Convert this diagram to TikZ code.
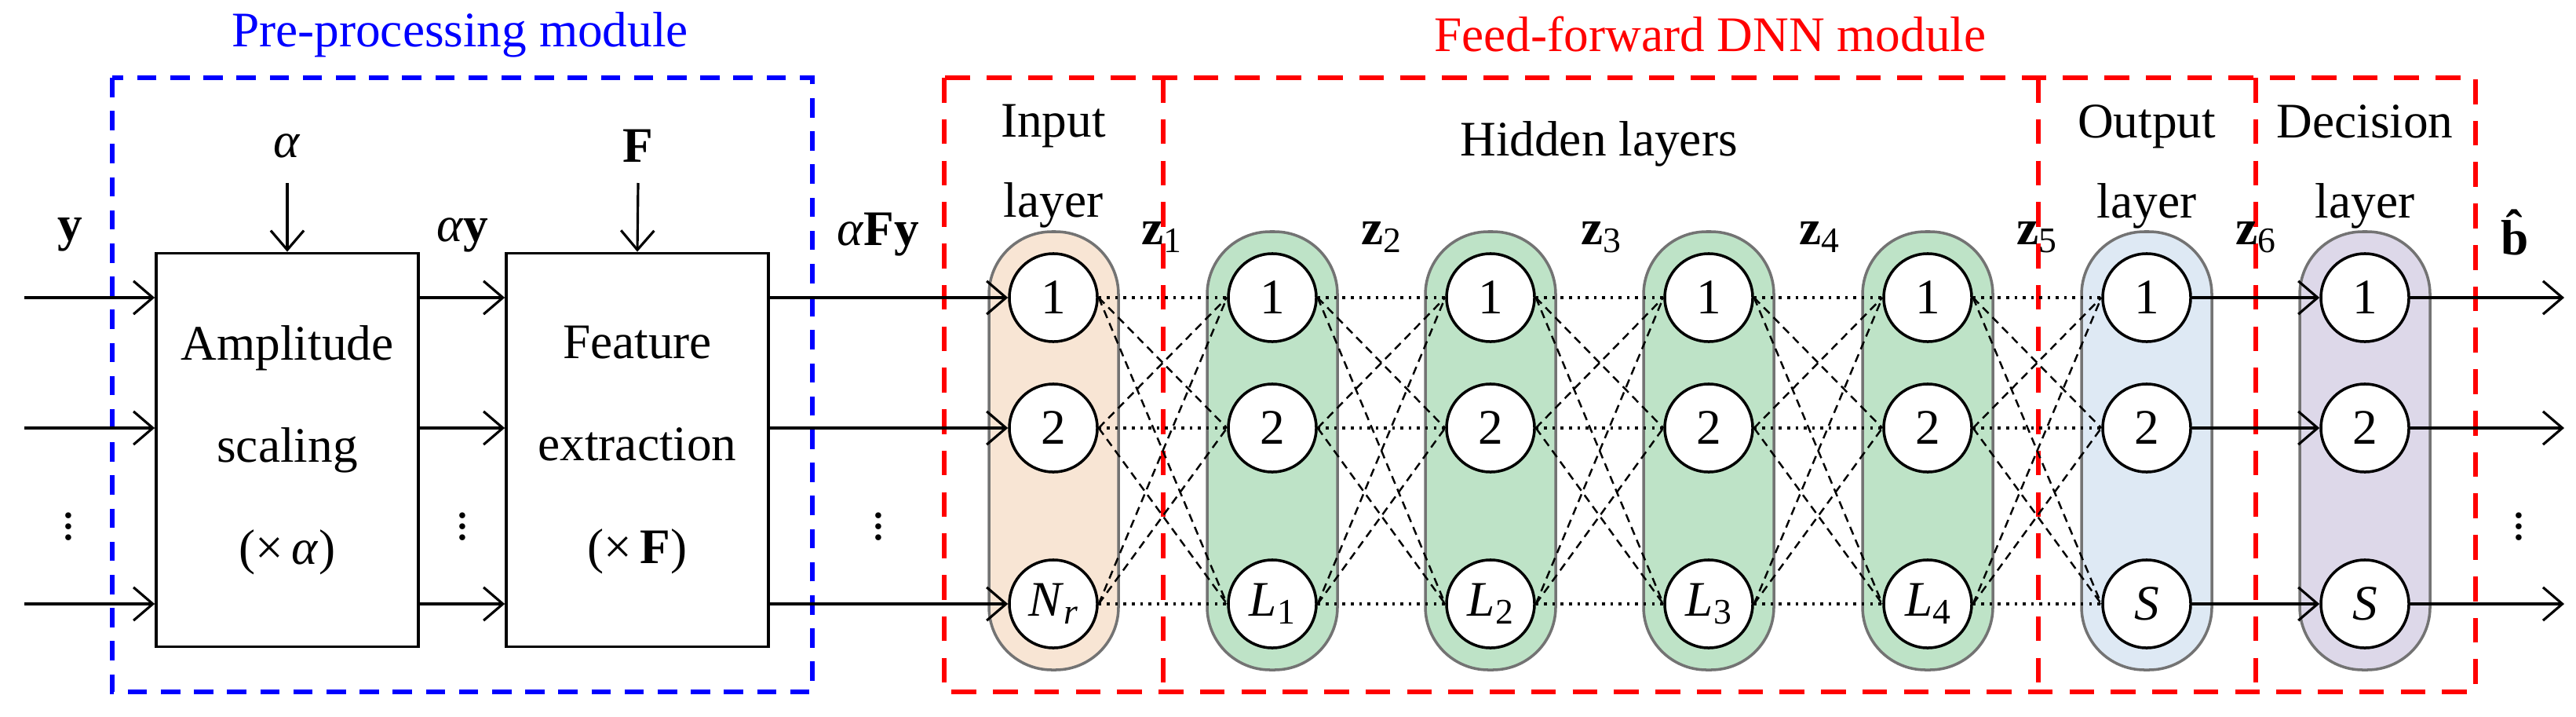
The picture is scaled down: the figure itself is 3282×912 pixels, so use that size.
\documentclass[tikz,border=0pt]{standalone}
\usepackage{fontspec}
\setmainfont{Liberation Serif}
\usetikzlibrary{arrows.meta}
\newcommand{\sbx}[1]{\raisebox{-0.35ex}{\fontsize{13}{14}\selectfont #1}}
\begin{document}
\begin{tikzpicture}[x=0.01cm,y=-0.01cm,
  font=\fontsize{18}{21}\selectfont,
  arr/.style={line width=0.9pt,-{Straight Barb[length=7pt,width=12pt]}},
  blk/.style={draw,line width=1pt,minimum width=3.34cm,minimum height=5.01cm,inner sep=0,align=center},
  neu/.style={circle,draw,line width=1pt,fill=white,minimum size=1.12cm,inner sep=0},
  pill/.style={rounded corners=0.8cm,draw=gray!90!black,line width=1pt},
  dot/.style={line width=1pt,dotted},
  dsh/.style={line width=0.7pt,dash pattern=on 3pt off 2pt},
  bluebox/.style={draw=blue,line width=1.6pt,dash pattern=on 7pt off 5pt},
  redbox/.style={draw=red,line width=1.6pt,dash pattern=on 9pt off 6pt},
  lbl/.style={align=center,inner sep=0}]
\useasboundingbox (0,0) rectangle (3282,912);
\definecolor{cin}{RGB}{248,229,212}
\definecolor{chid}{RGB}{190,227,199}
\definecolor{cout}{RGB}{222,233,244}
\definecolor{cdec}{RGB}{221,216,233}
% titles
\node[text=blue] (t1) at (586,44) {Pre-processing module};
\node[text=red] (t2) at (2179,44) {Feed-forward DNN module};
% module boxes
\draw[bluebox] (143,99) rectangle (1035,881);
\draw[redbox] (1203,99) rectangle (3154,881);
\foreach \x in {1482,2597,2874} \draw[redbox] (\x,99) -- (\x,881);
% blocks
\node[blk] (b1) at (366,573) {Amplitude\\[16pt]scaling\\[16pt](×\,\textit{α})};
\node[blk] (b2) at (812,573) {Feature\\[16pt]extraction\\[16pt](×\,\textbf{F})};
\node (alab) at (366,186) {\textit{α}};
\node (flab) at (813,186) {\textbf{F}};
\draw[arr] (366,233) -- (b1.north);
\draw[arr] (813,233) -- (b2.north);
\node (ylab) at (89,299) {\textbf{y}};
\node (aylab) at (589,299) {\textit{α}\textbf{y}};
\node (afylab) at (1119,299) {\textit{α}\textbf{Fy}};
\foreach \x/\n in {87/d0,589/d1,1119/d2,1342/d3,1621/d4,1899/d5,2177/d6,2456/d7,2735/d8,3013/d9,3209/d10}
  \node (\n) at (\x,660) {$\vdots$};
% pills
\draw[pill,fill=cin] (1260,295) rectangle (1425,853);
\foreach \cx in {1621,1899,2177,2456}
  \draw[pill,fill=chid] (\cx-83,295) rectangle (\cx+83,853);
\draw[pill,fill=cout] (2652,295) rectangle (2818,853);
\draw[pill,fill=cdec] (2930,295) rectangle (3096,853);
% layer labels
\node[lbl] (li) at (1342,212) {Input\\[8pt]layer};
\node (lh) at (2037,183) {Hidden layers};
\node[lbl] (lo) at (2735,212) {Output\\[8pt]layer};
\node[lbl] (ld) at (3013,212) {Decision\\[8pt]layer};
\node (z1) at (1480,302) {\textbf{z}\sbx{1}};
\node (z2) at (1760,302) {\textbf{z}\sbx{2}};
\node (z3) at (2040,302) {\textbf{z}\sbx{3}};
\node (z4) at (2318,302) {\textbf{z}\sbx{4}};
\node (z5) at (2595,302) {\textbf{z}\sbx{5}};
\node (z6) at (2874,302) {\textbf{z}\sbx{6}};
\node (bh) at (3209,296) {\textbf{\^{b}}};
% neurons
\foreach \n/\x/\last in {L0/1342/{\textit{N}\sbx{\textit{r}}},L1/1621/{\textit{L}\sbx{1}},L2/1899/{\textit{L}\sbx{2}},L3/2177/{\textit{L}\sbx{3}},L4/2456/{\textit{L}\sbx{4}},L5/2735/{\textit{S}},L6/3013/{\textit{S}}}{
  \node[neu] (\n a) at (\x,379) {1};
  \node[neu] (\n b) at (\x,545) {2};
  \node[neu] (\n c) at (\x,769) {\last};
}
% connections
\foreach \p/\q in {L0/L1,L1/L2,L2/L3,L3/L4,L4/L5}{
  \foreach \r in {a,b,c} \draw[dot] (\p\r) -- (\q\r);
  \foreach \r/\s in {a/b,a/c,b/a,b/c,c/a,c/b} \draw[dsh] (\p\r.east) -- (\q\s.west);
}
% input/output arrows
\coordinate (s1) at (31,379); \coordinate (s2) at (31,545); \coordinate (s3) at (31,769);
\coordinate (e1) at (3267,379); \coordinate (e2) at (3267,545); \coordinate (e3) at (3267,769);
\foreach \r/\i in {a/1,b/2,c/3}{
  \draw[arr] (s\i) -- (b1.west |- s\i);
  \draw[arr] (b1.east |- s\i) -- (b2.west |- s\i);
  \draw[arr] (b2.east |- s\i) -- (L0\r);
  \draw[arr] (L5\r) -- (L6\r);
  \draw[arr] (L6\r) -- (e\i);
}
\end{tikzpicture}
\end{document}
